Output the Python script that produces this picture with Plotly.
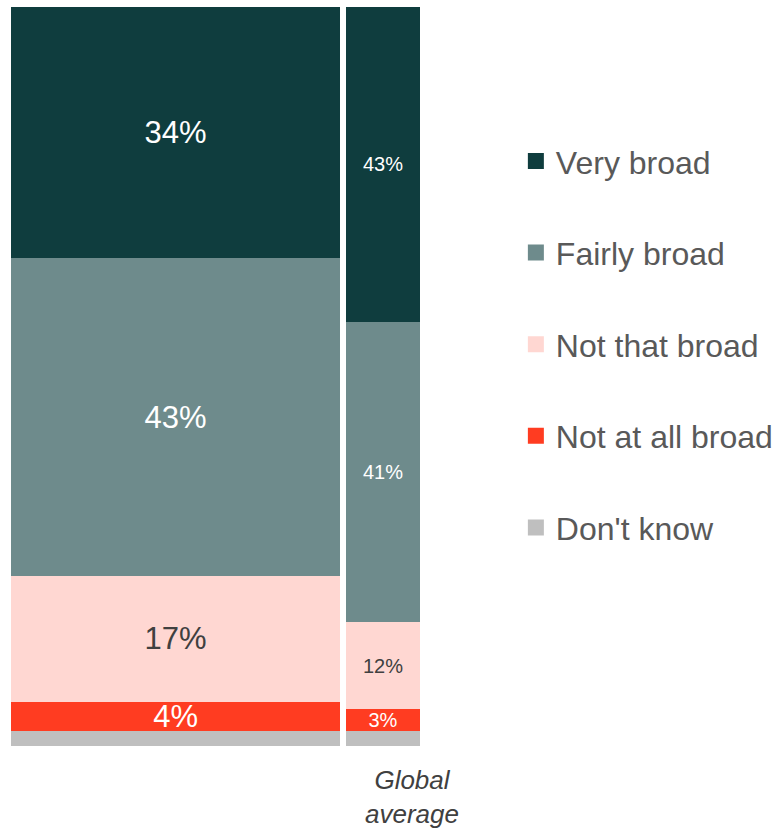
import plotly.graph_objects as go

# Survey responses, share of respondents (%)
categories = ["Very broad", "Fairly broad", "Not that broad", "Not at all broad", "Don't know"]
country_values = [34, 43, 17, 4, 2]
global_values = [43, 41, 12, 3, 2]
labelled = [True, True, True, True, False]

colors = ["#0f3d3e", "#6e8b8c", "#ffd7d2", "#ff3c21", "#bfbfbf"]
text_colors = ["#ffffff", "#ffffff", "#404040", "#ffffff", "#ffffff"]

# Bar geometry in axis units: the main bar is wide, the global average narrow
wide_w, narrow_w, gap = 1.5, 0.337, 0.027
x_pos = [0, 1]
widths = [wide_w, narrow_w]
offsets = [-wide_w / 2, (wide_w / 2 + gap) - 1]

fig = go.Figure()

# Stacked from the bottom: Don't know first
for cat, cv, gv, col, tcol, lab in reversed(list(zip(categories, country_values, global_values,
                                                      colors, text_colors, labelled))):
    fig.add_trace(go.Bar(
        x=x_pos,
        y=[cv, gv],
        width=widths,
        offset=offsets,
        name=cat,
        marker=dict(color=col, line=dict(width=0)),
        text=[f"{cv}%", f"{gv}%"] if lab else None,
        textposition="inside",
        insidetextanchor="middle",
        constraintext="none",
        textfont=dict(family="Liberation Sans, Arial", size=[31, 20], color=tcol),
        showlegend=False,
        hoverinfo="skip",
    ))

# Legend entries, top to bottom
for cat, col in zip(categories, colors):
    fig.add_trace(go.Scatter(
        x=[None], y=[None], mode="markers", name=cat, legendgroup=cat,
        marker=dict(symbol="square", size=17, color=col),
    ))

fig.add_annotation(
    text="<i>Global<br>average</i>", xref="paper", yref="paper",
    x=0.980, y=-0.0690, xanchor="center", yanchor="middle", showarrow=False,
    font=dict(family="Liberation Sans, Arial", size=26, color="#404040"),
)

fig.update_layout(
    width=774, height=828,
    margin=dict(l=11, r=354, t=7, b=82),
    barmode="stack", barnorm="percent",
    plot_bgcolor="white", paper_bgcolor="white",
    xaxis=dict(range=[-wide_w / 2, wide_w / 2 + gap + narrow_w], visible=False, fixedrange=True),
    yaxis=dict(range=[0, 100], visible=False, fixedrange=True),
    legend=dict(
        xref="container", yref="container", x=0.6665, y=0.8385, xanchor="left", yanchor="top",
        font=dict(family="Liberation Sans, Arial", size=32, color="#595959"),
        tracegroupgap=47, bgcolor="rgba(0,0,0,0)", maxheight=800,
    ),
    font=dict(family="Liberation Sans, Arial"),
)

fig.write_html("out.html")
